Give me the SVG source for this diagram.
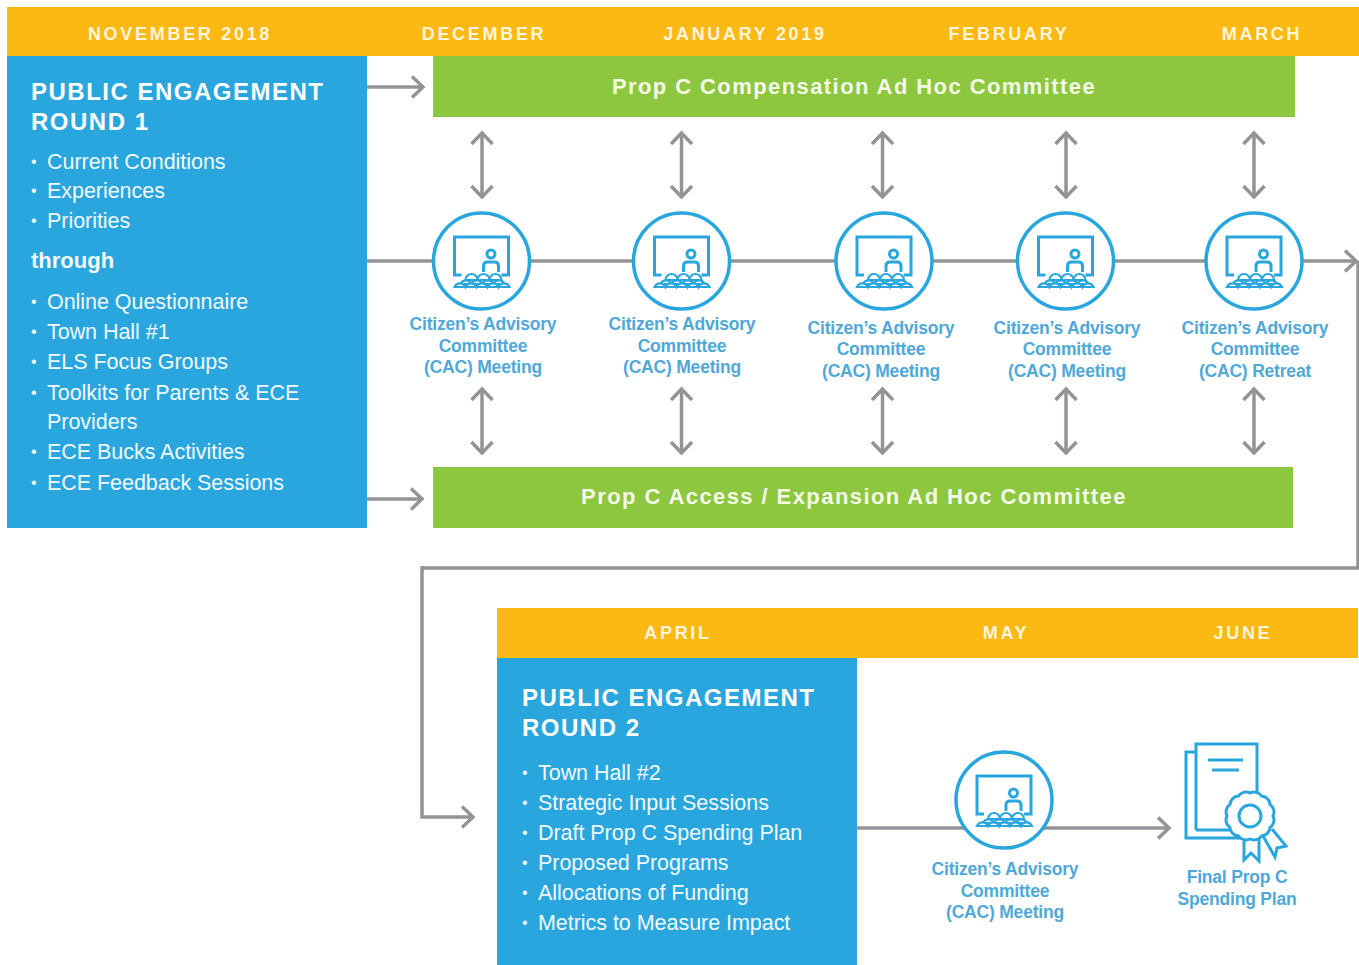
<svg xmlns="http://www.w3.org/2000/svg" width="1359" height="965" viewBox="0 0 1359 965">
<style>
text{font-family:"Liberation Sans",Arial,sans-serif}
.mo{font-size:18px;font-weight:700;fill:#fff5dc;letter-spacing:2.7px;text-anchor:middle}
.bar{font-size:22px;font-weight:700;fill:#f4fae8;letter-spacing:1.42px;text-anchor:middle}
.h{font-size:24px;font-weight:700;fill:#fff;letter-spacing:1.5px}
.li{font-size:21.5px;fill:#f2f9fd;letter-spacing:-.04px}
.b{font-size:16px;fill:#f2f9fd}
.th{font-size:22px;font-weight:700;fill:#f2f9fd}
.cap{font-size:17.5px;font-weight:700;fill:#4fa8d8;text-anchor:middle;letter-spacing:-.2px}
.c{fill:none;stroke:#929497;stroke-width:3.5}
.i{fill:none;stroke:#29a6de;stroke-width:3}
.s{fill:#fff;stroke:#29a6de;stroke-width:2.2}
.ci{fill:#fff;stroke:#29a6de;stroke-width:3.5}
</style>
<defs>
<marker id="a" markerUnits="userSpaceOnUse" markerWidth="24" markerHeight="28" refX="18" refY="14" orient="auto-start-reverse" viewBox="0 0 24 28"><path d="M7 3.500 L18 14 L7 24.500" fill="none" stroke="#929497" stroke-width="3.500"/></marker>
<g id="icon">
<circle r="48" class="ci"/>
<path class="i" d="M-20 14 H-27 V-24 H27 V14 H20"/>
<circle class="i" cx="9.500" cy="-7" r="4"/>
<path class="i" d="M2 11 V5 Q2 1 6 1 H13 Q17 1 17 5 V11"/>
<path class="s" d="M-16 19 A6 6 0 0 1 -4 19 A6 6 0 0 1 8 19 A6 6 0 0 1 20 19 Z"/>
<path class="s" d="M-21 23 A6 6 0 0 1 -10 23 A6 6 0 0 1 1 23 A6 6 0 0 1 12 23 A6 6 0 0 1 23 23 Z"/>
<path class="s" d="M-27 26 A6 6 0 0 1 -16 26 A6 6 0 0 1 -5 26 A6 6 0 0 1 6 26 A6 6 0 0 1 17 26 A6 6 0 0 1 28 26 Z"/>
</g>
</defs>
<rect width="1359" height="965" fill="#fff"/>
<g id="connectors">
<path class="c" marker-end="url(#a)" d="M367 87 H423"/>
<path class="c" marker-end="url(#a)" d="M367 499 H422"/>
<path class="c" marker-end="url(#a)" d="M367 261 H1356"/>
<path class="c" d="M1358 261 V568 H422"/>
<path class="c" marker-end="url(#a)" d="M422 566 V817 H473"/>
<path class="c" marker-end="url(#a)" d="M857 828 H1169"/>
<path class="c" marker-start="url(#a)" marker-end="url(#a)" d="M482 133 V197"/>
<path class="c" marker-start="url(#a)" marker-end="url(#a)" d="M681.500 133 V197"/>
<path class="c" marker-start="url(#a)" marker-end="url(#a)" d="M882.500 133 V197"/>
<path class="c" marker-start="url(#a)" marker-end="url(#a)" d="M1066 133 V197"/>
<path class="c" marker-start="url(#a)" marker-end="url(#a)" d="M1254 133 V197"/>
<path class="c" marker-start="url(#a)" marker-end="url(#a)" d="M482 389 V453"/>
<path class="c" marker-start="url(#a)" marker-end="url(#a)" d="M681.500 389 V453"/>
<path class="c" marker-start="url(#a)" marker-end="url(#a)" d="M882.500 389 V453"/>
<path class="c" marker-start="url(#a)" marker-end="url(#a)" d="M1066 389 V453"/>
<path class="c" marker-start="url(#a)" marker-end="url(#a)" d="M1254 389 V453"/>
</g>
<g id="timeline-top">
<rect x="7" y="7" width="1352" height="49" fill="#fdb913"/>
<text class="mo" x="180" y="40">NOVEMBER 2018</text>
<text class="mo" x="484" y="40">DECEMBER</text>
<text class="mo" x="745" y="40">JANUARY 2019</text>
<text class="mo" x="1009" y="40">FEBRUARY</text>
<text class="mo" x="1262" y="40">MARCH</text>
</g>
<g id="round-1">
<rect x="7" y="56" width="360" height="472" fill="#29a6de"/>
<text class="h" x="31" y="100">PUBLIC ENGAGEMENT</text>
<text class="h" x="31" y="130">ROUND 1</text>
<text class="b" x="31" y="167">•</text><text class="li" x="47" y="169">Current Conditions</text>
<text class="b" x="31" y="196">•</text><text class="li" x="47" y="198">Experiences</text>
<text class="b" x="31" y="226">•</text><text class="li" x="47" y="228">Priorities</text>
<text class="th" x="31" y="268">through</text>
<text class="b" x="31" y="307">•</text><text class="li" x="47" y="309">Online Questionnaire</text>
<text class="b" x="31" y="337">•</text><text class="li" x="47" y="339">Town Hall #1</text>
<text class="b" x="31" y="367">•</text><text class="li" x="47" y="369">ELS Focus Groups</text>
<text class="b" x="31" y="398">•</text><text class="li" x="47" y="400">Toolkits for Parents &amp; ECE</text>
<text class="li" x="47" y="429">Providers</text>
<text class="b" x="31" y="457">•</text><text class="li" x="47" y="459">ECE Bucks Activities</text>
<text class="b" x="31" y="488">•</text><text class="li" x="47" y="490">ECE Feedback Sessions</text>
</g>
<g id="compensation-committee">
<rect x="433" y="56" width="862" height="61" fill="#8dc63f"/>
<text class="bar" x="854" y="94">Prop C Compensation Ad Hoc Committee</text>
</g>
<g id="access-committee">
<rect x="433" y="467" width="860" height="61" fill="#8dc63f"/>
<text class="bar" x="854" y="504">Prop C Access / Expansion Ad Hoc Committee</text>
</g>
<g id="cac-1"><use href="#icon" x="481.500" y="261"/>
<text class="cap" x="483" y="330">Citizen’s Advisory</text><text class="cap" x="483" y="352">Committee</text><text class="cap" x="483" y="373">(CAC) Meeting</text></g>
<g id="cac-2"><use href="#icon" x="681.500" y="261"/>
<text class="cap" x="682" y="330">Citizen’s Advisory</text><text class="cap" x="682" y="352">Committee</text><text class="cap" x="682" y="373">(CAC) Meeting</text></g>
<g id="cac-3"><use href="#icon" x="884" y="261"/>
<text class="cap" x="881" y="334">Citizen’s Advisory</text><text class="cap" x="881" y="355">Committee</text><text class="cap" x="881" y="377">(CAC) Meeting</text></g>
<g id="cac-4"><use href="#icon" x="1065.500" y="261"/>
<text class="cap" x="1067" y="334">Citizen’s Advisory</text><text class="cap" x="1067" y="355">Committee</text><text class="cap" x="1067" y="377">(CAC) Meeting</text></g>
<g id="cac-retreat"><use href="#icon" x="1254" y="261"/>
<text class="cap" x="1255" y="334">Citizen’s Advisory</text><text class="cap" x="1255" y="355">Committee</text><text class="cap" x="1255" y="377">(CAC) Retreat</text></g>
<g id="timeline-bottom">
<rect x="497" y="608" width="861" height="50" fill="#fdb913"/>
<text class="mo" x="678" y="639">APRIL</text>
<text class="mo" x="1006" y="639">MAY</text>
<text class="mo" x="1243" y="639">JUNE</text>
</g>
<g id="round-2">
<rect x="497" y="658" width="360" height="307" fill="#29a6de"/>
<text class="h" x="522" y="706">PUBLIC ENGAGEMENT</text>
<text class="h" x="522" y="736">ROUND 2</text>
<text class="b" x="522" y="778">•</text><text class="li" x="538" y="780">Town Hall #2</text>
<text class="b" x="522" y="808">•</text><text class="li" x="538" y="810">Strategic Input Sessions</text>
<text class="b" x="522" y="838">•</text><text class="li" x="538" y="840">Draft Prop C Spending Plan</text>
<text class="b" x="522" y="868">•</text><text class="li" x="538" y="870">Proposed Programs</text>
<text class="b" x="522" y="898">•</text><text class="li" x="538" y="900">Allocations of Funding</text>
<text class="b" x="522" y="928">•</text><text class="li" x="538" y="930">Metrics to Measure Impact</text>
</g>
<g id="cac-6"><use href="#icon" x="1004" y="800"/>
<text class="cap" x="1005" y="875">Citizen’s Advisory</text><text class="cap" x="1005" y="897">Committee</text><text class="cap" x="1005" y="918">(CAC) Meeting</text></g>
<g id="final-plan">
<path class="i" d="M1196 752 H1186 V838 H1245"/>
<path class="i" d="M1196 830 V744 H1257 V795 M1196 830 H1232"/>
<path class="i" d="M1208 760 H1243 M1212 770 H1239"/>
<path class="i" d="M1244 838 V860 L1251 853 L1259 861 V838 M1263 836 L1275 857 L1277 848 L1286 846 L1272 829"/>
<path class="i" style="fill:#fff" d="M1273 816 A9 9 0 0 0 1270 804.500 A9 9 0 0 0 1261.500 796 A9 9 0 0 0 1250 793 A9 9 0 0 0 1238.500 796 A9 9 0 0 0 1230 804.500 A9 9 0 0 0 1227 816 A9 9 0 0 0 1230 827.500 A9 9 0 0 0 1238.500 836 A9 9 0 0 0 1250 839 A9 9 0 0 0 1261.500 836 A9 9 0 0 0 1270 827.500 A9 9 0 0 0 1273 816 Z"/>
<circle class="i" cx="1250" cy="816" r="11"/>
<text class="cap" x="1237" y="883">Final Prop C</text><text class="cap" x="1237" y="905">Spending Plan</text>
</g>
</svg>
